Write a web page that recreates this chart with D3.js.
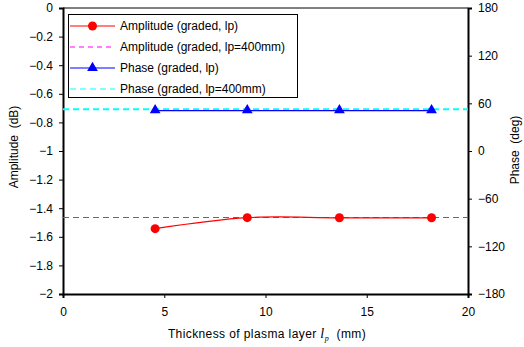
<!DOCTYPE html>
<html>
<head>
<meta charset="utf-8">
<script src="https://cdn.jsdelivr.net/npm/d3@7"></script>
<style>
  body { margin: 0; background: #fff; }
  text { font-family: "Liberation Sans", Arial, sans-serif; }
</style>
</head>
<body>
<script>
// data
var thickness = [4.55, 9.1, 13.65, 18.2];
var amplitude = [-1.543, -1.466, -1.467, -1.467];
var phase = [50.7, 50.8, 50.8, 50.8];
var amplitudeRef = -1.465;   // lp = 400mm
var phaseRef = 52.6;          // lp = 400mm
var xTicks = [0, 5, 10, 15, 20];
var yTicks = [0, -0.2, -0.4, -0.6, -0.8, -1, -1.2, -1.4, -1.6, -1.8, -2];
var y2Ticks = [180, 120, 60, 0, -60, -120, -180];
var legendItems = ["Amplitude (graded, lp)", "Amplitude (graded, lp=400mm)", "Phase (graded, lp)", "Phase (graded, lp=400mm)"];

var width = 524, height = 347;
var margin = { top: 8, right: 56, bottom: 53, left: 63 };

var svg = d3.select("body").append("svg")
    .attr("width", width)
    .attr("height", height);

var x = d3.scaleLinear().domain([0, 20]).range([margin.left, width - margin.right]);
var y = d3.scaleLinear().domain([-2, 0]).range([height - margin.bottom, margin.top]);
var y2 = d3.scaleLinear().domain([-180, 180]).range([height - margin.bottom, margin.top]);

var fmt = function(d) { return String(d).replace("-", "\u2212"); };

// frame top
svg.append("line")
    .attr("x1", x(0)).attr("x2", x(20))
    .attr("y1", y(0)).attr("y2", y(0))
    .attr("stroke", "#000").attr("stroke-width", 1);

// axes
var gx = svg.append("g")
    .attr("transform", "translate(0," + y(-2) + ")")
    .call(d3.axisBottom(x).tickValues(xTicks).tickSize(4).tickPadding(9).tickFormat(fmt));
var gy = svg.append("g")
    .attr("transform", "translate(" + x(0) + ",0)")
    .call(d3.axisLeft(y).tickValues(yTicks).tickSize(4).tickPadding(6).tickFormat(fmt));
var gy2 = svg.append("g")
    .attr("transform", "translate(" + x(20) + ",0)")
    .call(d3.axisRight(y2).tickValues(y2Ticks).tickSize(4).tickPadding(6).tickFormat(fmt));

[gx, gy, gy2].forEach(function(g) {
    g.select(".domain").attr("stroke-width", 2).attr("stroke", "#000");
    g.selectAll(".tick line").attr("stroke", "#000");
    g.selectAll("text").attr("font-size", 12).attr("fill", "#000")
        .style("font-family", "'Liberation Sans', Arial, sans-serif");
});

// reference lines
svg.append("line")
    .attr("x1", x(0)).attr("x2", x(20))
    .attr("y1", y(amplitudeRef)).attr("y2", y(amplitudeRef))
    .attr("stroke", "#ff00ff").attr("stroke-width", 1.2)
    .attr("stroke-dasharray", "6,4");

svg.append("line")
    .attr("x1", x(0)).attr("x2", x(20))
    .attr("y1", y2(phaseRef)).attr("y2", y2(phaseRef))
    .attr("stroke", "#00ffff").attr("stroke-width", 2)
    .attr("stroke-dasharray", "6,4");

// amplitude series (smoothed)
var ampLine = d3.line()
    .x(function(d, i) { return x(thickness[i]); })
    .y(function(d) { return y(d); })
    .curve(d3.curveCatmullRom.alpha(0));
svg.append("path")
    .attr("d", ampLine(amplitude))
    .attr("fill", "none").attr("stroke", "#ff0000").attr("stroke-width", 1.2);
svg.append("g").selectAll("circle")
    .data(amplitude).enter()
    .append("circle")
    .attr("cx", function(d, i) { return x(thickness[i]); })
    .attr("cy", function(d) { return y(d); })
    .attr("r", 4.5)
    .attr("fill", "#ff0000");

// phase series
var phLine = d3.line()
    .x(function(d, i) { return x(thickness[i]); })
    .y(function(d) { return y2(d); })
    .curve(d3.curveCatmullRom.alpha(0));
svg.append("path")
    .attr("d", phLine(phase))
    .attr("fill", "none").attr("stroke", "#0000ff").attr("stroke-width", 1.2);
var tri = d3.symbol().type(d3.symbolTriangle).size(50);
svg.append("g").selectAll("path")
    .data(phase).enter()
    .append("path")
    .attr("d", tri)
    .attr("transform", function(d, i) { return "translate(" + x(thickness[i]) + "," + (y2(d) - 0.5) + ")"; })
    .attr("fill", "#0000ff");

// axis titles
svg.append("text")
    .attr("transform", "translate(18,147) rotate(-90)")
    .attr("text-anchor", "middle")
    .attr("font-size", 12)
    .attr("xml:space", "preserve")
    .text("Amplitude  (dB)");

svg.append("text")
    .attr("transform", "translate(519,150) rotate(-90)")
    .attr("text-anchor", "middle")
    .attr("font-size", 12)
    .attr("xml:space", "preserve")
    .text("Phase  (deg)");

var xt = svg.append("text")
    .attr("x", 267)
    .attr("y", 338)
    .attr("text-anchor", "middle")
    .attr("font-size", 12)
    .attr("letter-spacing", 0.4)
    .attr("xml:space", "preserve");
xt.append("tspan").text("Thickness of plasma layer ");
xt.append("tspan").attr("font-style", "italic").attr("font-family", "'Liberation Serif', serif").attr("font-size", 14).text("l");
xt.append("tspan").attr("font-style", "italic").attr("font-family", "'Liberation Serif', serif").attr("font-size", 8).attr("dy", 3).text("p");
xt.append("tspan").attr("dy", -3).text("  (mm)");

// legend
var legend = svg.append("g");
legend.append("rect")
    .attr("x", 68.5).attr("y", 14.5)
    .attr("width", 229).attr("height", 83)
    .attr("fill", "#fff").attr("stroke", "#000").attr("stroke-width", 1);

var rowY = [26, 47, 68, 89];
var rowColor = ["#ff0000", "#ff00ff", "#0000ff", "#00ffff"];
var rowDash = [null, "5,4", null, "6,4"];
legendItems.forEach(function(label, i) {
    legend.append("line")
        .attr("x1", 70).attr("x2", 115)
        .attr("y1", rowY[i]).attr("y2", rowY[i])
        .attr("stroke", rowColor[i])
        .attr("stroke-width", 1.2)
        .attr("stroke-dasharray", rowDash[i]);
    if (i === 0) {
        legend.append("circle").attr("cx", 92.5).attr("cy", rowY[i]).attr("r", 4.5).attr("fill", "#ff0000");
    }
    if (i === 2) {
        legend.append("path").attr("d", tri).attr("transform", "translate(92.5," + rowY[i] + ")").attr("fill", "#0000ff");
    }
    legend.append("text")
        .attr("x", 120).attr("y", rowY[i] + 4)
        .attr("font-size", 12)
        .text(label);
});
</script>
</body>
</html>
